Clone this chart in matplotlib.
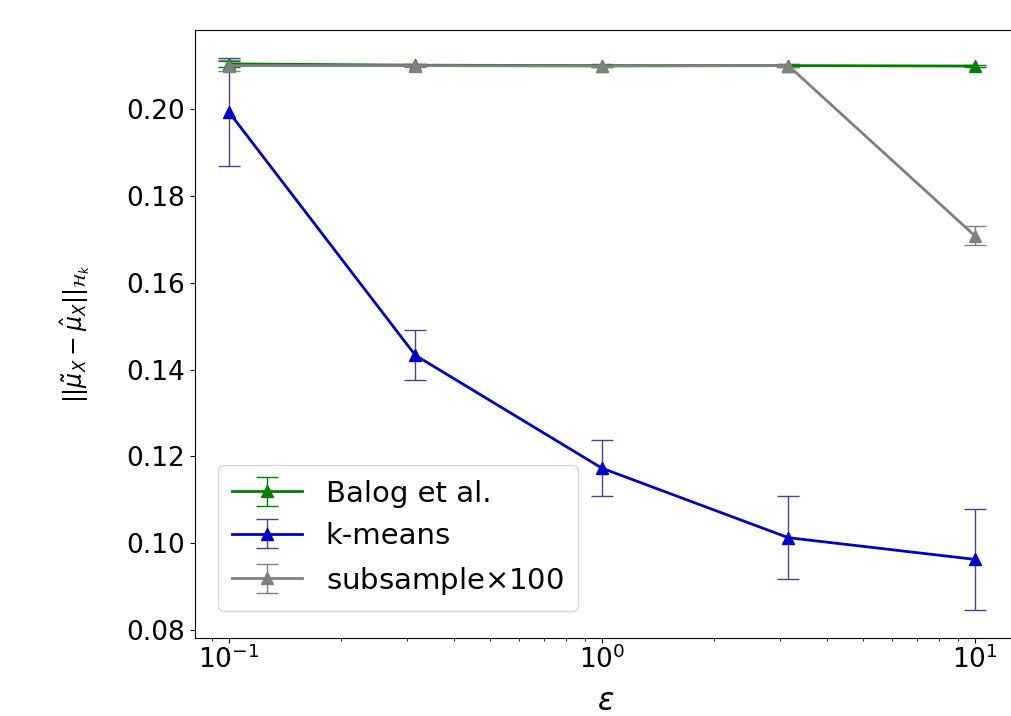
import numpy as np
import matplotlib
matplotlib.use('Agg')
import matplotlib.pyplot as plt

# valores de epsilon
eps = [0.1, 0.316, 1.0, 3.16, 10.0]

# series y sus barras de error
balog = [0.2104, 0.2101, 0.2100, 0.2100, 0.2099]
balog_err = [0.0007, 0.0003, 0.0003, 0.0003, 0.0003]

kmeans = [0.1993, 0.1433, 0.1173, 0.1013, 0.0963]
kmeans_err = [0.0124, 0.0058, 0.0064, 0.0095, 0.0117]

subsample = [0.2100, 0.2100, 0.2099, 0.2100, 0.1708]
subsample_err = [0.0012, 0.0003, 0.0003, 0.0003, 0.0022]

fig = plt.figure(figsize=(10.11, 7.16), dpi=100)
ax = fig.add_axes([195 / 1011, 1 - 638 / 716, 822 / 1011, 608 / 716])

ax.errorbar(eps, balog, yerr=balog_err, color='green', marker='^', ms=9,
            lw=2, elinewidth=1, capsize=8, label='Balog et al.')
ax.errorbar(eps, kmeans, yerr=kmeans_err, color='#0000cc', ecolor='#44449a',
            marker='^', ms=9, lw=2, elinewidth=1, capsize=8, label='k-means')
ax.errorbar(eps, subsample, yerr=subsample_err, color='grey', marker='^',
            ms=9, lw=2, elinewidth=1, capsize=8, label=r'subsample$\times100$')

ax.set_xscale('log')
# 373 px por década
ax.set_xlim(10 ** -1.091, 10 ** (-1.091 + 822 / 373))
ax.set_ylim(0.0782, 0.2182)
ax.set_yticks([0.08, 0.10, 0.12, 0.14, 0.16, 0.18, 0.20])
ax.tick_params(labelsize=19)
ax.tick_params(axis='x', pad=2)
ax.set_ylabel(r'$||\tilde{\mu}_X - \hat{\mu}_X||_{\mathcal{H}_k}$', fontsize=17,
              labelpad=25)
ax.set_xlabel(r'$\varepsilon$', fontsize=22, labelpad=9)
ax.legend(loc='lower left', fontsize=21, bbox_to_anchor=(0.01, 0.02),
          handlelength=2.4, labelspacing=0.5, borderpad=0.5)

fig.savefig('out.png', dpi=100)
